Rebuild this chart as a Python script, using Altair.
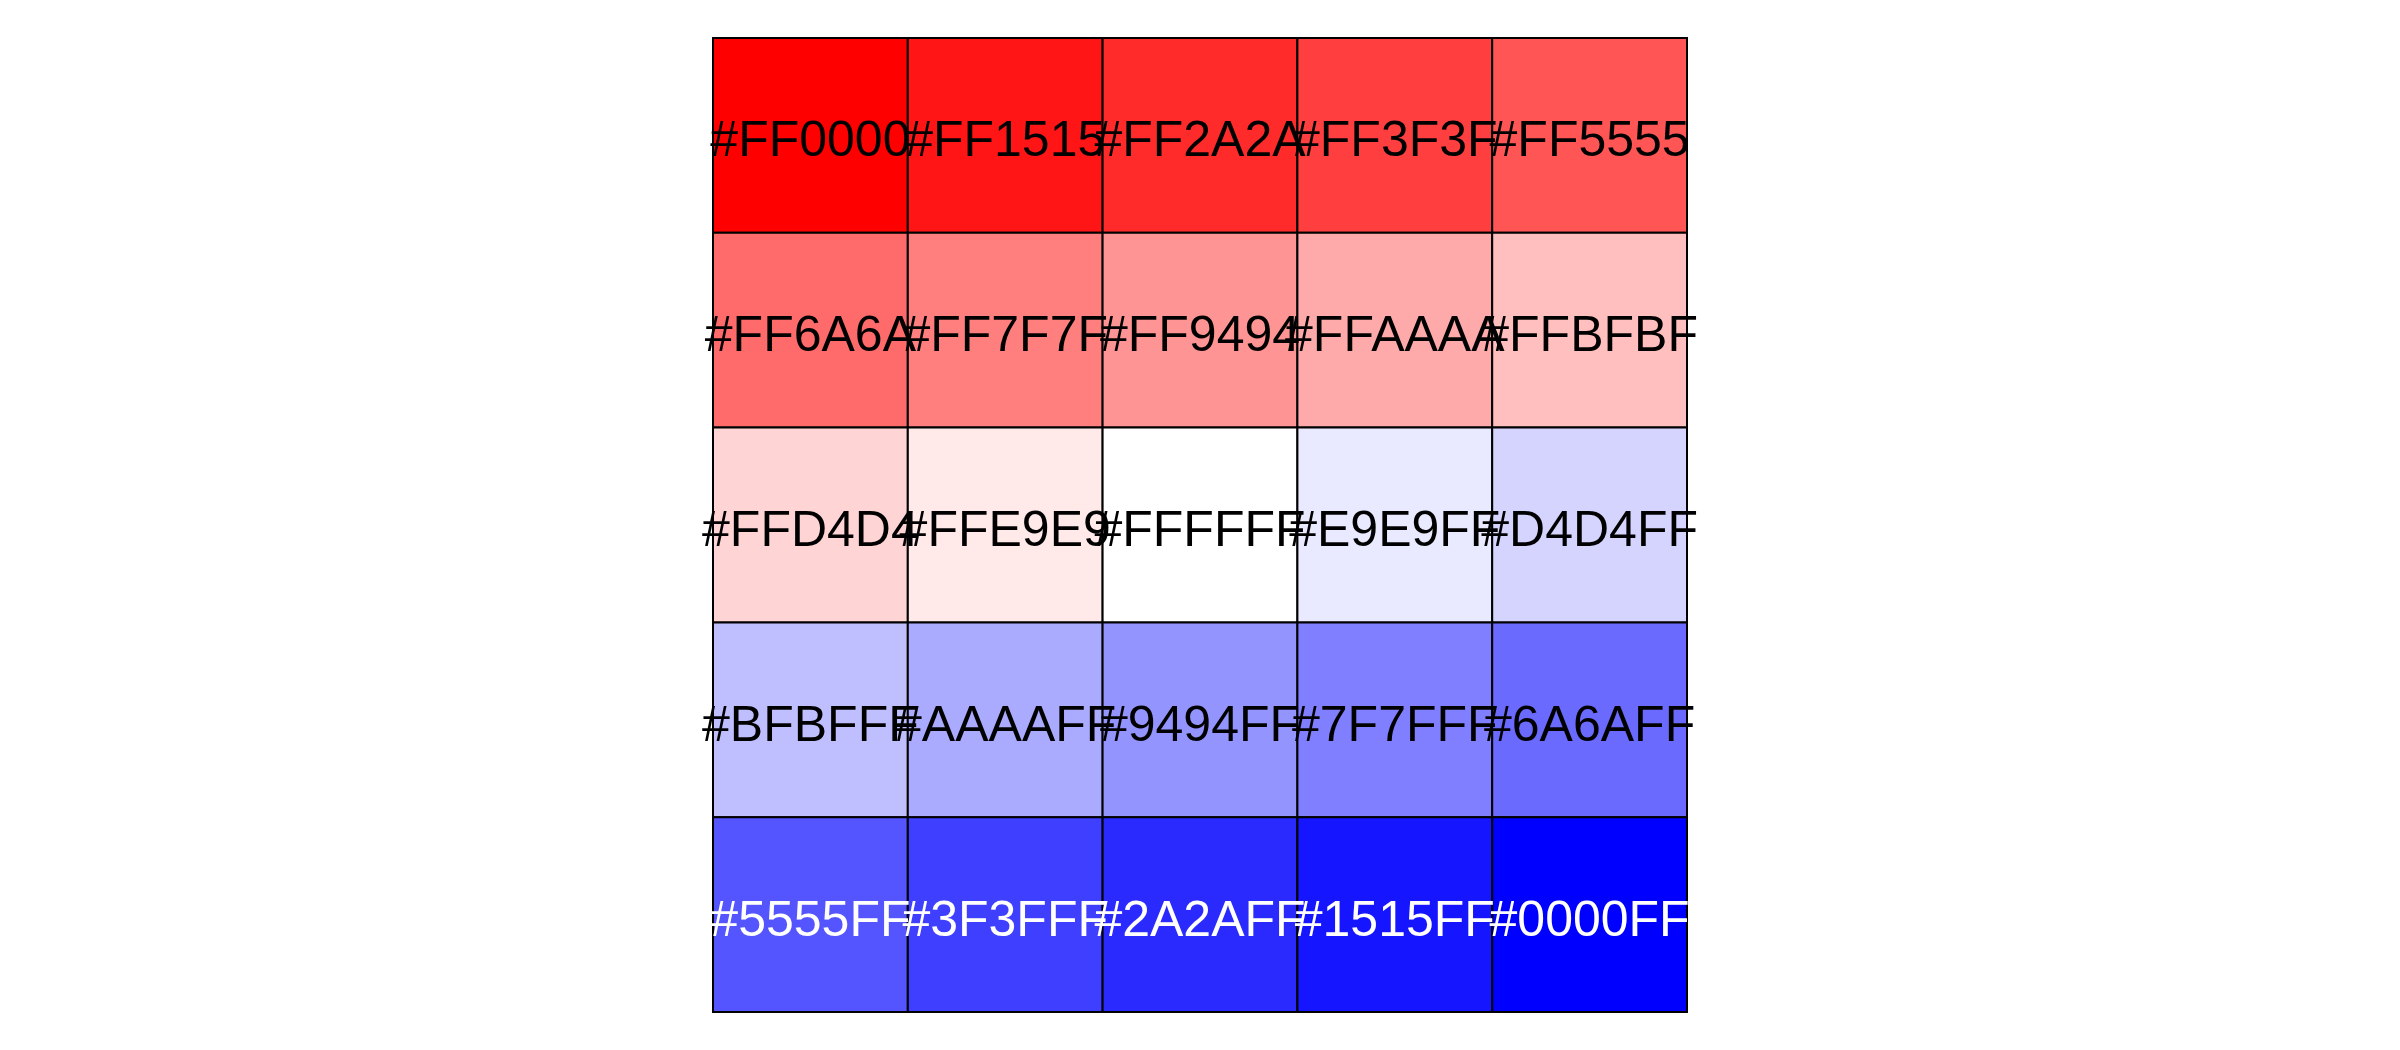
import altair as alt
import pandas as pd

colors = [
    "#FF0000", "#FF1515", "#FF2A2A", "#FF3F3F", "#FF5555",
    "#FF6A6A", "#FF7F7F", "#FF9494", "#FFAAAA", "#FFBFBF",
    "#FFD4D4", "#FFE9E9", "#FFFFFF", "#E9E9FF", "#D4D4FF",
    "#BFBFFF", "#AAAAFF", "#9494FF", "#7F7FFF", "#6A6AFF",
    "#5555FF", "#3F3FFF", "#2A2AFF", "#1515FF", "#0000FF",
]
text_colors = ["black"] * 20 + ["white"] * 5
cols = [i % 5 for i in range(25)]
rows = [i // 5 for i in range(25)]

df = pd.DataFrame({"col": cols, "row": rows, "color": colors, "tcolor": text_colors})

x = alt.X("col:O", axis=None, scale=alt.Scale(paddingInner=0, paddingOuter=0))
y = alt.Y("row:O", axis=None, scale=alt.Scale(paddingInner=0, paddingOuter=0))

rects = alt.Chart(df).mark_rect(stroke="black", strokeWidth=2).encode(
    x=x, y=y, fill=alt.Fill("color:N", scale=None)
)
labels = alt.Chart(df).mark_text(
    font="Liberation Sans", fontSize=50, baseline="middle", align="center", dy=6
).encode(
    x=x, y=y, text="color:N", color=alt.Color("tcolor:N", scale=None)
)

chart = (rects + labels).properties(
    width=974, height=974,
    padding={"left": 713, "top": 38, "right": 713, "bottom": 38},
    autosize=alt.AutoSizeParams(type="none"),
).configure_view(stroke=None)

chart.save("out.html", embed_options={"renderer": "svg", "actions": False})
